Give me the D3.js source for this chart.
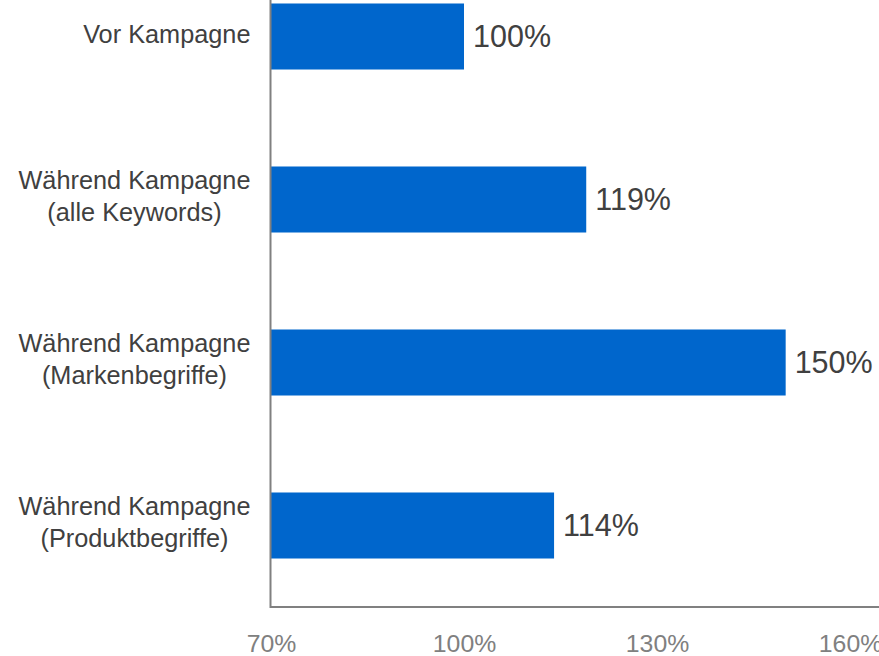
<!DOCTYPE html>
<html>
<head>
<meta charset="utf-8">
<script src="https://cdn.jsdelivr.net/npm/d3@7"></script>
<style>
  html, body { margin: 0; padding: 0; background: #ffffff; }
  svg { display: block; font-family: "Liberation Sans", Arial, sans-serif; }
</style>
</head>
<body>
<svg id="chart" width="879" height="656"></svg>
<script>
// Category labels (line breaks as separate lines)
const categories = [
  ["Vor Kampagne"],
  ["Während Kampagne", "(alle Keywords)"],
  ["Während Kampagne", "(Markenbegriffe)"],
  ["Während Kampagne", "(Produktbegriffe)"]
];
// Index values in percent (before campaign = 100)
const values = [100, 119, 150, 114];
// Axis ticks
const tickValues = [70, 100, 130, 160];

const svg = d3.select("#chart");
const W = 879, H = 656;

const x = d3.scaleLinear().domain([70, 160]).range([271, 850]);
const y = d3.scaleBand()
  .domain(d3.range(categories.length))
  .range([-45, 607])
  .paddingInner(0.595)
  .paddingOuter(0.2975);

const barColor = "#0066cc";
const textColor = "#404040";
const axisColor = "#808080";

// Bars
svg.append("g").selectAll("rect")
  .data(values)
  .join("rect")
  .attr("x", x(70))
  .attr("y", (d, i) => y(i))
  .attr("width", d => x(d) - x(70))
  .attr("height", y.bandwidth())
  .attr("fill", barColor);

// Value labels
svg.append("g").selectAll("text")
  .data(values)
  .join("text")
  .attr("x", d => x(d) + 9)
  .attr("y", (d, i) => y(i) + y.bandwidth() / 2 + 10)
  .attr("font-size", 30.5)
  .attr("fill", textColor)
  .text(d => d + "%");

// Category labels: lines centered on each other, block right-aligned
const labelRight = 250.5;
const lineH = 32;
const catG = svg.append("g");
categories.forEach((lines, i) => {
  const cy = y(i) + y.bandwidth() / 2;
  const first = lines.length === 1 ? 6 : -10.5;
  const t = catG.append("text")
    .attr("font-size", 25.3)
    .attr("fill", textColor)
    .attr("text-anchor", "middle");
  const spans = lines.map((ln, j) =>
    t.append("tspan")
      .attr("y", cy + first + j * lineH)
      .text(ln));
  let maxW = 0;
  spans.forEach(s => { maxW = Math.max(maxW, s.node().getComputedTextLength()); });
  spans.forEach(s => s.attr("x", labelRight - maxW / 2));
});

// X axis tick labels
const xAxis = d3.axisBottom(x).tickValues(tickValues).tickSize(0).tickPadding(0)
  .tickFormat(d => d + "%");
const gx = svg.append("g").attr("transform", "translate(0,607)").call(xAxis);
gx.select(".domain").remove();
gx.selectAll("text")
  .attr("y", 45)
  .attr("dy", 0)
  .attr("font-size", 24.8)
  .attr("font-family", "Liberation Sans, Arial, sans-serif")
  .attr("fill", axisColor);

// Axis lines
svg.append("line")
  .attr("x1", 270.5).attr("x2", W)
  .attr("y1", 607).attr("y2", 607)
  .attr("stroke", axisColor).attr("stroke-width", 2);
svg.append("line")
  .attr("x1", 270.5).attr("x2", 270.5)
  .attr("y1", 0).attr("y2", 608)
  .attr("stroke", axisColor).attr("stroke-width", 2);
</script>
</body>
</html>
